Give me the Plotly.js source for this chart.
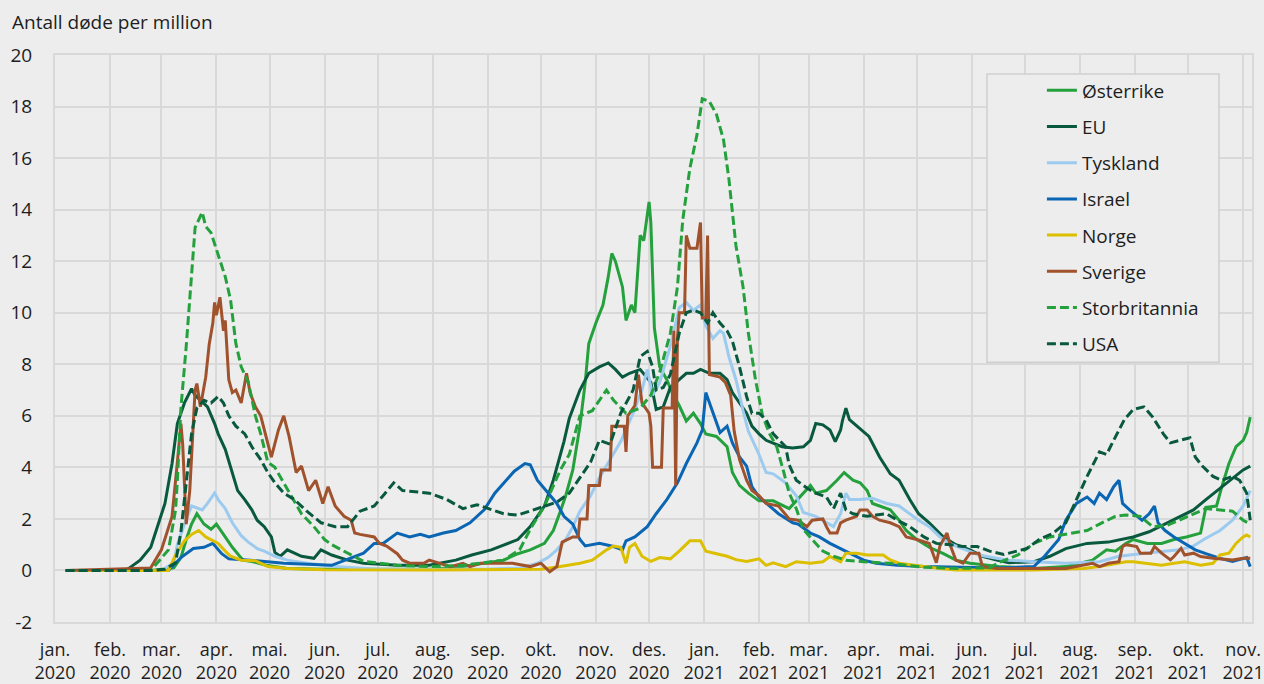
<!DOCTYPE html>
<html>
<head>
<meta charset="utf-8">
<script src="https://cdn.plot.ly/plotly-3.0.1.min.js"></script>
<style>
html,body{margin:0;padding:0;background:#ededed;}
#chart{width:1264px;height:684px;}
</style>
</head>
<body>
<div id="chart"></div>
<script>
// ---- Tick labels (axis categories) ----
const monthNames = ['jan.','feb.','mar.','apr.','mai.','jun.','jul.','aug.','sep.','okt.','nov.','des.',
                    'jan.','feb.','mar.','apr.','mai.','jun.','jul.','aug.','sep.','okt.','nov.'];
const monthYears = ['2020','2020','2020','2020','2020','2020','2020','2020','2020','2020','2020','2020',
                    '2021','2021','2021','2021','2021','2021','2021','2021','2021','2021','2021'];
const monthStarts = ['2020-01-01','2020-02-01','2020-03-01','2020-04-01','2020-05-01','2020-06-01','2020-07-01','2020-08-01','2020-09-01','2020-10-01','2020-11-01','2020-12-01',
                     '2021-01-01','2021-02-01','2021-03-01','2021-04-01','2021-05-01','2021-06-01','2021-07-01','2021-08-01','2021-09-01','2021-10-01','2021-11-01'];
const yTickVals = [-2,0,2,4,6,8,10,12,14,16,18,20];
const yTickText = ['-2','0','2','4','6','8','10','12','14','16','18','20'];

// ---- Series names ----
const seriesNames = ['Østerrike','EU','Tyskland','Israel','Norge','Sverige','Storbritannia','USA'];

// ---- Østerrike ----
const autDates = ['2020-01-07','2020-02-24','2020-03-08','2020-03-12','2020-03-15','2020-03-18','2020-03-21','2020-03-25','2020-03-29','2020-04-01','2020-04-05','2020-04-10','2020-04-16','2020-04-21','2020-04-29','2020-05-11','2020-06-01','2020-07-01','2020-08-01','2020-08-18','2020-08-31','2020-09-10','2020-09-18','2020-09-25','2020-10-03','2020-10-08','2020-10-12','2020-10-15','2020-10-19','2020-10-23','2020-10-26','2020-10-28','2020-11-01','2020-11-05','2020-11-08','2020-11-10','2020-11-12','2020-11-14','2020-11-16','2020-11-18','2020-11-21','2020-11-23','2020-11-26','2020-11-28','2020-12-01','2020-12-02','2020-12-04','2020-12-07','2020-12-11','2020-12-14','2020-12-18','2020-12-22','2020-12-26','2020-12-30','2021-01-02','2021-01-08','2021-01-14','2021-01-17','2021-01-21','2021-01-26','2021-02-01','2021-02-09','2021-02-18','2021-02-22','2021-02-26','2021-03-02','2021-03-05','2021-03-11','2021-03-17','2021-03-21','2021-03-26','2021-03-30','2021-04-03','2021-04-06','2021-04-10','2021-04-16','2021-04-21','2021-04-25','2021-05-01','2021-05-08','2021-05-16','2021-05-23','2021-05-31','2021-06-11','2021-06-16','2021-07-06','2021-07-24','2021-08-08','2021-08-16','2021-08-21','2021-08-27','2021-08-31','2021-09-08','2021-09-16','2021-09-23','2021-09-30','2021-10-08','2021-10-11','2021-10-17','2021-10-20','2021-10-24','2021-10-28','2021-11-01','2021-11-03','2021-11-05'];
const autVals = [0,0,0.1,0.5,1.2,1.8,2.2,1.8,1.6,1.8,1.4,0.9,0.4,0.35,0.2,0.08,0.05,0.05,0.05,0.15,0.3,0.4,0.65,0.8,1.05,1.55,2.3,2.9,3.9,5.6,7.3,8.8,9.6,10.3,11.4,12.3,12.0,11.5,11.0,9.7,10.3,10.0,13.0,12.8,14.3,13.5,9.4,7.9,7.4,6.9,6.4,5.8,6.1,5.7,5.3,5.2,4.8,3.8,3.3,3.0,2.7,2.7,2.4,2.7,3.0,3.3,3.0,3.1,3.5,3.8,3.5,3.4,3.1,2.6,2.5,2.35,1.95,1.55,1.2,0.9,0.65,0.4,0.28,0.2,0.15,0.08,0.15,0.4,0.8,0.75,1.05,1.2,1.05,1.05,1.2,1.3,1.45,2.45,2.5,3.25,4.15,4.8,5.05,5.35,5.95];

// ---- EU ----
const euDates = ['2020-01-07','2020-02-10','2020-02-13','2020-02-18','2020-02-24','2020-02-27','2020-03-03','2020-03-07','2020-03-10','2020-03-14','2020-03-18','2020-03-20','2020-03-23','2020-03-27','2020-03-31','2020-04-02','2020-04-06','2020-04-09','2020-04-13','2020-04-17','2020-04-21','2020-04-24','2020-04-28','2020-05-02','2020-05-04','2020-05-07','2020-05-11','2020-05-19','2020-05-26','2020-05-30','2020-06-05','2020-06-14','2020-06-23','2020-07-12','2020-07-30','2020-08-14','2020-08-23','2020-09-03','2020-09-10','2020-09-18','2020-09-25','2020-10-03','2020-10-08','2020-10-14','2020-10-17','2020-10-23','2020-10-28','2020-11-03','2020-11-08','2020-11-12','2020-11-16','2020-11-20','2020-11-26','2020-12-02','2020-12-05','2020-12-09','2020-12-13','2020-12-18','2020-12-22','2020-12-26','2020-12-30','2021-01-04','2021-01-10','2021-01-14','2021-01-17','2021-01-21','2021-01-25','2021-01-28','2021-02-01','2021-02-05','2021-02-09','2021-02-14','2021-02-20','2021-02-26','2021-03-02','2021-03-05','2021-03-09','2021-03-13','2021-03-16','2021-03-19','2021-03-20','2021-03-22','2021-03-24','2021-03-30','2021-04-04','2021-04-10','2021-04-16','2021-04-21','2021-04-27','2021-05-02','2021-05-08','2021-05-16','2021-05-23','2021-05-31','2021-06-07','2021-06-15','2021-06-22','2021-07-06','2021-07-15','2021-07-24','2021-08-05','2021-08-17','2021-08-31','2021-09-09','2021-09-19','2021-09-26','2021-10-04','2021-10-11','2021-10-19','2021-10-26','2021-11-01','2021-11-05'];
const euVals = [0,0,0.15,0.4,0.9,1.55,2.6,4.15,5.7,6.5,7.05,6.8,6.6,6.35,5.7,5.3,4.7,4.0,3.1,2.75,2.35,1.95,1.7,1.3,0.7,0.55,0.8,0.55,0.47,0.8,0.6,0.4,0.28,0.2,0.2,0.4,0.6,0.8,1.0,1.2,1.7,2.5,3.5,5.0,5.9,7.0,7.65,7.9,8.05,7.8,7.5,7.65,7.8,7.3,6.25,6.35,7.1,7.4,7.65,7.65,7.8,7.65,7.65,7.4,6.9,6.5,6.1,5.6,5.3,5.05,4.95,4.8,4.75,4.8,5.05,5.7,5.65,5.45,5.0,5.45,5.8,6.3,5.85,5.5,5.2,4.4,3.75,3.5,2.75,2.2,1.85,1.3,1.0,0.8,0.55,0.4,0.3,0.34,0.55,0.85,1.05,1.1,1.3,1.5,1.85,2.1,2.35,2.75,3.2,3.6,3.9,4.05];

// ---- Tyskland ----
const deuDates = ['2020-01-07','2020-03-01','2020-03-08','2020-03-10','2020-03-14','2020-03-18','2020-03-24','2020-03-27','2020-03-31','2020-04-02','2020-04-06','2020-04-10','2020-04-15','2020-04-19','2020-04-24','2020-04-28','2020-05-04','2020-05-11','2020-05-22','2020-06-07','2020-07-01','2020-09-01','2020-09-20','2020-09-29','2020-10-05','2020-10-10','2020-10-15','2020-10-19','2020-10-23','2020-10-29','2020-11-03','2020-11-09','2020-11-15','2020-11-22','2020-11-27','2020-11-30','2020-12-03','2020-12-07','2020-12-13','2020-12-18','2020-12-22','2020-12-26','2020-12-30','2021-01-02','2021-01-06','2021-01-10','2021-01-12','2021-01-15','2021-01-19','2021-01-23','2021-01-26','2021-02-01','2021-02-05','2021-02-09','2021-02-16','2021-02-22','2021-02-26','2021-03-05','2021-03-11','2021-03-15','2021-03-19','2021-03-22','2021-03-24','2021-03-30','2021-04-06','2021-04-14','2021-04-21','2021-04-27','2021-05-02','2021-05-08','2021-05-14','2021-05-21','2021-05-29','2021-06-05','2021-06-15','2021-06-22','2021-07-06','2021-07-24','2021-08-12','2021-08-23','2021-09-04','2021-09-16','2021-09-26','2021-10-04','2021-10-11','2021-10-19','2021-10-26','2021-11-01','2021-11-05'];
const deuVals = [0,0,0.3,1.0,1.8,2.5,2.35,2.6,3.0,2.75,2.4,1.85,1.35,1.1,0.85,0.75,0.55,0.4,0.28,0.15,0.05,0.05,0.1,0.28,0.5,0.8,1.2,1.7,2.3,2.9,3.6,4.3,5.0,6.1,7.0,7.8,6.8,7.3,8.7,10.2,10.4,10.1,10.3,9.5,9.0,9.3,9.2,8.3,7.4,6.2,5.4,4.5,3.8,3.75,3.4,2.9,2.25,2.1,1.85,1.7,2.2,3.0,2.75,2.75,2.8,2.6,2.5,2.2,1.95,1.7,1.3,1.0,0.8,0.6,0.47,0.4,0.34,0.28,0.34,0.55,0.65,0.72,0.8,0.95,1.25,1.55,1.95,2.5,3.1];

// ---- Israel ----
const isrDates = ['2020-01-07','2020-03-05','2020-03-12','2020-03-19','2020-03-25','2020-03-30','2020-04-04','2020-04-08','2020-04-20','2020-05-09','2020-06-05','2020-06-16','2020-06-23','2020-06-29','2020-07-04','2020-07-12','2020-07-19','2020-07-25','2020-07-30','2020-08-07','2020-08-14','2020-08-22','2020-08-30','2020-09-05','2020-09-10','2020-09-16','2020-09-22','2020-09-25','2020-09-29','2020-10-05','2020-10-10','2020-10-14','2020-10-19','2020-10-23','2020-10-26','2020-11-03','2020-11-11','2020-11-16','2020-11-18','2020-11-23','2020-11-30','2020-12-05','2020-12-11','2020-12-17','2020-12-22','2020-12-28','2020-12-31','2021-01-02','2021-01-06','2021-01-10','2021-01-14','2021-01-17','2021-01-21','2021-01-25','2021-01-28','2021-02-01','2021-02-07','2021-02-12','2021-02-20','2021-02-23','2021-03-02','2021-03-07','2021-03-13','2021-03-19','2021-03-24','2021-04-01','2021-04-08','2021-04-20','2021-05-05','2021-05-23','2021-06-11','2021-06-16','2021-07-06','2021-07-12','2021-07-20','2021-07-24','2021-07-30','2021-08-05','2021-08-09','2021-08-12','2021-08-16','2021-08-20','2021-08-23','2021-08-25','2021-08-29','2021-09-02','2021-09-05','2021-09-09','2021-09-12','2021-09-14','2021-09-18','2021-09-23','2021-09-29','2021-10-05','2021-10-11','2021-10-19','2021-10-26','2021-11-03','2021-11-05'];
const isrVals = [0,0,0.5,0.85,0.9,1.05,0.65,0.45,0.4,0.28,0.2,0.5,0.67,1.05,1.05,1.45,1.3,1.4,1.3,1.45,1.55,1.85,2.35,3.0,3.4,3.85,4.15,4.1,3.5,3.0,2.6,2.1,1.8,1.2,0.95,1.05,0.93,0.8,1.15,1.3,1.7,2.2,2.75,3.4,4.15,4.95,5.45,6.9,6.1,5.35,5.6,4.95,4.4,4.05,3.25,2.85,2.5,2.2,1.85,1.8,1.45,1.3,1.05,0.85,0.67,0.4,0.28,0.2,0.15,0.12,0.08,0.1,0.15,0.55,1.2,1.95,2.6,2.85,2.6,3.0,2.75,3.25,3.5,2.6,2.35,2.1,1.95,2.2,2.5,1.85,1.55,1.3,1.05,0.8,0.65,0.47,0.35,0.5,0.15];

// ---- Norge ----
const norDates = ['2020-01-07','2020-03-05','2020-03-09','2020-03-14','2020-03-18','2020-03-22','2020-03-26','2020-03-29','2020-04-02','2020-04-06','2020-04-09','2020-04-15','2020-04-23','2020-04-30','2020-05-11','2020-06-01','2020-08-01','2020-10-01','2020-10-12','2020-10-23','2020-10-30','2020-11-07','2020-11-11','2020-11-15','2020-11-18','2020-11-20','2020-11-23','2020-11-27','2020-12-02','2020-12-07','2020-12-13','2020-12-18','2020-12-24','2020-12-30','2021-01-02','2021-01-08','2021-01-14','2021-01-19','2021-01-25','2021-02-01','2021-02-05','2021-02-09','2021-02-16','2021-02-22','2021-03-02','2021-03-09','2021-03-13','2021-03-19','2021-03-22','2021-03-28','2021-04-03','2021-04-12','2021-04-16','2021-04-21','2021-04-29','2021-05-05','2021-05-14','2021-05-23','2021-07-06','2021-08-03','2021-08-12','2021-08-27','2021-08-31','2021-09-08','2021-09-16','2021-09-23','2021-09-29','2021-10-08','2021-10-15','2021-10-19','2021-10-24','2021-10-28','2021-11-01','2021-11-03','2021-11-05'];
const norVals = [0,0,0.6,1.15,1.4,1.55,1.3,1.2,1.05,0.75,0.55,0.4,0.38,0.15,0.08,0.03,0.02,0.05,0.15,0.28,0.4,0.8,0.95,0.9,0.28,0.9,1.05,0.55,0.35,0.5,0.45,0.75,1.15,1.15,0.75,0.65,0.55,0.42,0.35,0.45,0.2,0.3,0.15,0.34,0.28,0.34,0.54,0.34,0.67,0.67,0.6,0.6,0.41,0.28,0.2,0.15,0.08,0.02,0.02,0.08,0.15,0.34,0.34,0.28,0.2,0.28,0.34,0.2,0.28,0.6,0.67,1.05,1.3,1.38,1.3];

// ---- Sverige ----
const sweDates = ['2020-01-07','2020-02-24','2020-03-01','2020-03-07','2020-03-10','2020-03-12','2020-03-13','2020-03-15','2020-03-17','2020-03-20','2020-03-21','2020-03-23','2020-03-26','2020-03-28','2020-03-30','2020-03-31','2020-04-01','2020-04-03','2020-04-05','2020-04-06','2020-04-08','2020-04-10','2020-04-12','2020-04-15','2020-04-18','2020-04-20','2020-04-23','2020-04-26','2020-05-02','2020-05-06','2020-05-09','2020-05-12','2020-05-16','2020-05-19','2020-05-23','2020-05-27','2020-05-31','2020-06-03','2020-06-07','2020-06-12','2020-06-16','2020-06-18','2020-06-21','2020-06-29','2020-07-02','2020-07-06','2020-07-12','2020-07-15','2020-07-19','2020-07-27','2020-07-30','2020-08-05','2020-08-11','2020-08-18','2020-08-22','2020-08-28','2020-09-06','2020-09-15','2020-09-25','2020-10-01','2020-10-06','2020-10-10','2020-10-13','2020-10-19','2020-10-22','2020-10-23','2020-10-27','2020-10-28','2020-11-03','2020-11-04','2020-11-09','2020-11-10','2020-11-17','2020-11-18','2020-11-19','2020-11-23','2020-11-25','2020-11-27','2020-12-01','2020-12-02','2020-12-03','2020-12-08','2020-12-09','2020-12-14','2020-12-15','2020-12-16','2020-12-17','2020-12-18','2020-12-21','2020-12-22','2020-12-24','2020-12-28','2020-12-30','2020-12-31','2021-01-02','2021-01-03','2021-01-04','2021-01-10','2021-01-13','2021-01-16','2021-01-18','2021-01-21','2021-01-25','2021-01-28','2021-02-01','2021-02-05','2021-02-12','2021-02-18','2021-02-23','2021-02-28','2021-03-03','2021-03-09','2021-03-11','2021-03-13','2021-03-17','2021-03-19','2021-03-22','2021-03-28','2021-03-30','2021-04-03','2021-04-06','2021-04-10','2021-04-16','2021-04-21','2021-04-25','2021-05-01','2021-05-08','2021-05-12','2021-05-14','2021-05-18','2021-05-20','2021-05-23','2021-05-27','2021-05-31','2021-06-05','2021-06-07','2021-06-15','2021-07-06','2021-07-24','2021-08-08','2021-08-12','2021-08-17','2021-08-23','2021-08-25','2021-08-27','2021-09-02','2021-09-04','2021-09-10','2021-09-12','2021-09-16','2021-09-21','2021-09-23','2021-09-27','2021-09-29','2021-10-04','2021-10-08','2021-10-15','2021-10-26','2021-11-01','2021-11-05'];
const sweVals = [0,0.1,0.8,2.1,4.2,5.7,4.9,1.8,3.1,7.0,7.25,6.35,7.5,8.8,9.6,10.4,9.9,10.6,9.3,9.7,7.4,6.9,7.0,6.5,7.65,6.9,6.35,6.0,4.4,5.45,6.0,5.2,3.8,4.05,3.1,3.5,2.6,3.25,2.5,2.1,1.95,1.45,1.4,1.3,1.05,0.95,0.65,0.4,0.28,0.28,0.4,0.28,0.15,0.28,0.15,0.28,0.28,0.28,0.15,0.28,-0.05,0.15,1.1,1.3,1.3,2.0,2.0,3.3,3.3,3.9,3.9,5.6,5.6,4.6,6.0,6.4,7.6,6.5,6.1,5.6,4.0,4.0,6.3,6.3,9.3,3.3,9.0,10.0,10.0,13.0,12.5,12.5,13.5,9.8,9.8,13.0,7.6,7.5,7.3,6.8,5.4,4.3,3.5,3.1,2.9,2.6,2.5,2.0,1.95,1.7,1.95,2.0,1.7,1.45,1.45,1.85,1.95,2.1,2.35,2.35,2.1,1.95,1.85,1.7,1.3,1.2,1.05,0.3,0.95,1.45,0.95,0.4,0.28,0.67,0.67,0.15,0.08,0.08,0.08,0.28,0.15,0.28,0.34,0.93,1.0,0.93,0.67,0.67,0.93,0.67,0.41,0.54,0.86,0.6,0.67,0.54,0.47,0.41,0.47,0.47];

// ---- Storbritannia ----
const gbrDates = ['2020-01-07','2020-02-24','2020-03-05','2020-03-09','2020-03-10','2020-03-12','2020-03-15','2020-03-17','2020-03-20','2020-03-24','2020-03-26','2020-03-29','2020-04-02','2020-04-06','2020-04-09','2020-04-12','2020-04-15','2020-04-19','2020-04-23','2020-04-26','2020-04-30','2020-05-04','2020-05-09','2020-05-13','2020-05-19','2020-05-26','2020-06-01','2020-06-05','2020-06-16','2020-06-23','2020-07-12','2020-07-30','2020-08-18','2020-08-31','2020-09-10','2020-09-19','2020-09-25','2020-10-03','2020-10-12','2020-10-17','2020-10-23','2020-10-30','2020-11-07','2020-11-11','2020-11-18','2020-11-26','2020-12-02','2020-12-07','2020-12-13','2020-12-17','2020-12-20','2020-12-24','2020-12-28','2020-12-31','2021-01-04','2021-01-08','2021-01-12','2021-01-15','2021-01-19','2021-01-23','2021-01-26','2021-01-30','2021-02-03','2021-02-07','2021-02-11','2021-02-15','2021-02-18','2021-02-22','2021-02-26','2021-03-03','2021-03-09','2021-03-15','2021-03-22','2021-04-01','2021-04-16','2021-05-05','2021-05-24','2021-06-11','2021-06-16','2021-06-27','2021-07-06','2021-07-15','2021-07-24','2021-08-05','2021-08-12','2021-08-21','2021-08-27','2021-09-04','2021-09-11','2021-09-19','2021-09-26','2021-10-04','2021-10-11','2021-10-19','2021-10-26','2021-11-01','2021-11-05'];
const gbrVals = [0,0,0.8,2.35,3.5,6.3,8.7,10.5,13.3,13.9,13.35,13.1,12.2,11.4,10.5,8.8,7.9,7.3,6.0,5.3,4.2,4.0,3.4,2.9,2.2,1.7,1.2,1.0,0.6,0.35,0.2,0.15,0.2,0.3,0.4,0.8,1.6,2.5,3.9,4.5,6.0,6.2,7.0,6.6,6.1,6.3,6.8,7.7,9.2,11.0,13.6,15.6,16.9,18.3,18.2,17.7,16.7,15.2,12.6,11.0,9.2,7.4,6.0,5.3,4.8,3.8,3.0,2.4,1.6,1.2,0.75,0.55,0.4,0.34,0.28,0.12,0.08,0.1,0.3,0.6,1.05,1.3,1.4,1.55,1.8,2.1,2.15,2.1,1.7,1.75,1.95,2.2,2.4,2.35,2.3,1.95,1.8];

// ---- USA ----
const usaDates = ['2020-01-07','2020-02-24','2020-03-03','2020-03-09','2020-03-12','2020-03-15','2020-03-18','2020-03-21','2020-03-25','2020-03-29','2020-04-02','2020-04-05','2020-04-08','2020-04-12','2020-04-17','2020-04-21','2020-04-26','2020-04-30','2020-05-04','2020-05-09','2020-05-15','2020-05-22','2020-05-30','2020-06-07','2020-06-14','2020-06-21','2020-06-29','2020-07-04','2020-07-10','2020-07-15','2020-07-23','2020-07-30','2020-08-09','2020-08-18','2020-08-26','2020-09-03','2020-09-10','2020-09-18','2020-09-25','2020-10-03','2020-10-10','2020-10-17','2020-10-23','2020-10-29','2020-11-03','2020-11-09','2020-11-15','2020-11-22','2020-11-26','2020-11-30','2020-12-03','2020-12-05','2020-12-09','2020-12-13','2020-12-18','2020-12-22','2020-12-26','2020-12-30','2021-01-03','2021-01-06','2021-01-10','2021-01-14','2021-01-17','2021-01-21','2021-01-25','2021-01-28','2021-02-01','2021-02-05','2021-02-09','2021-02-12','2021-02-16','2021-02-18','2021-02-22','2021-02-28','2021-03-05','2021-03-11','2021-03-15','2021-03-19','2021-03-22','2021-03-26','2021-04-03','2021-04-08','2021-04-14','2021-04-20','2021-04-27','2021-05-05','2021-05-12','2021-05-20','2021-05-27','2021-06-04','2021-06-11','2021-06-19','2021-07-02','2021-07-09','2021-07-17','2021-07-24','2021-07-30','2021-08-05','2021-08-12','2021-08-16','2021-08-20','2021-08-26','2021-08-31','2021-09-06','2021-09-11','2021-09-17','2021-09-21','2021-09-26','2021-10-02','2021-10-05','2021-10-09','2021-10-15','2021-10-20','2021-10-26','2021-10-30','2021-11-03','2021-11-05'];
const usaVals = [0,0,0.05,0.3,1.5,3.5,5.3,6.3,6.6,6.5,6.75,6.5,6.0,5.6,5.3,4.8,4.3,3.8,3.4,3.0,2.75,2.3,1.85,1.7,1.7,2.3,2.5,2.9,3.4,3.1,3.05,3.0,2.75,2.4,2.55,2.35,2.2,2.15,2.3,2.5,2.65,3.0,3.6,4.2,5.05,4.9,6.1,7.0,8.3,8.5,7.9,7.0,7.1,7.6,9.2,10.0,10.1,10.0,9.6,10.0,9.6,9.3,8.9,7.9,6.75,6.1,6.1,5.85,5.3,5.1,4.8,4.1,3.5,3.2,3.0,2.85,2.4,3.0,2.35,2.2,2.1,2.15,2.2,1.95,1.7,1.3,1.05,1.0,0.93,0.93,0.75,0.62,0.85,1.2,1.45,1.85,2.75,3.65,4.6,4.5,5.05,5.85,6.25,6.35,5.95,5.3,4.95,5.05,5.15,4.4,4.05,3.65,3.5,3.65,3.5,3.0,1.95];

// ---- Styles ----
const GREEN = '#24a13c', DARK = '#08593d', LIGHTBLUE = '#9ccbef', BLUE = '#0a65b3', YELLOW = '#dbbf00', BROWN = '#a0522d';
const DASH = '9px,4px';

const seriesData = [
  [autDates, autVals, GREEN, 'solid'],
  [euDates, euVals, DARK, 'solid'],
  [deuDates, deuVals, LIGHTBLUE, 'solid'],
  [isrDates, isrVals, BLUE, 'solid'],
  [norDates, norVals, YELLOW, 'solid'],
  [sweDates, sweVals, BROWN, 'solid'],
  [gbrDates, gbrVals, GREEN, DASH],
  [usaDates, usaVals, DARK, DASH]
];

const traces = seriesData.map((s, i) => ({
  type: 'scatter', mode: 'lines',
  name: seriesNames[i], legendgroup: 'g' + i,
  x: s[0], y: s[1],
  line: {color: s[2], width: 3, dash: s[3], shape: 'linear'},
  hoverinfo: 'skip'
}));

const tickText = monthNames.map((m, i) => m + '<br>' + monthYears[i]);

const GRID = '#d9d9d9';
const FS = 19;
const layout = {
  width: 1264, height: 684,
  margin: {l: 55, r: 12, t: 55, b: 62, pad: 0},
  paper_bgcolor: '#ededed', plot_bgcolor: '#ededed',
  font: {family: '"Open Sans", "Noto Sans", sans-serif', size: FS, color: '#1e1e1e'},
  showlegend: true,
  legend: {
    x: 0.8245, y: 0.971, xanchor: 'left', yanchor: 'top',
    bgcolor: 'rgba(0,0,0,0)', borderwidth: 0,
    tracegroupgap: 8.5, traceorder: 'grouped',
    font: {size: FS, color: '#1e1e1e'}
  },
  xaxis: {
    type: 'date', range: ['2020-01-01', '2021-11-06'],
    tickmode: 'array', tickvals: monthStarts, ticktext: tickText,
    tickfont: {size: 18},
    ticklabeloverflow: 'allow',
    showgrid: true, gridcolor: GRID, gridwidth: 2,
    zeroline: false, showline: true, mirror: true, linecolor: GRID, linewidth: 2,
    ticks: '', ticklabelstandoff: 10, fixedrange: true
  },
  yaxis: {
    range: [-2, 20], tickmode: 'array', tickvals: yTickVals, ticktext: yTickText,
    showgrid: true, gridcolor: GRID, gridwidth: 2,
    zeroline: false, showline: true, mirror: true, linecolor: GRID, linewidth: 2,
    ticks: '', ticklabelstandoff: 17, fixedrange: true
  },
  shapes: [{
    type: 'rect', xref: 'paper', yref: 'paper', layer: 'above',
    x0: 0.7786, x1: 0.9724, y0: 0.4583, y1: 0.9665,
    fillcolor: '#ededed', line: {color: '#cfcfcf', width: 1.5}
  }],
  annotations: [{
    text: 'Antall døde per million', xref: 'paper', yref: 'paper',
    x: -0.0376, y: 1.058, xanchor: 'left', yanchor: 'middle',
    showarrow: false, font: {size: FS, color: '#1e1e1e'}
  }]
};

Plotly.newPlot('chart', traces, layout, {staticPlot: true, displayModeBar: false});
</script>
</body>
</html>
